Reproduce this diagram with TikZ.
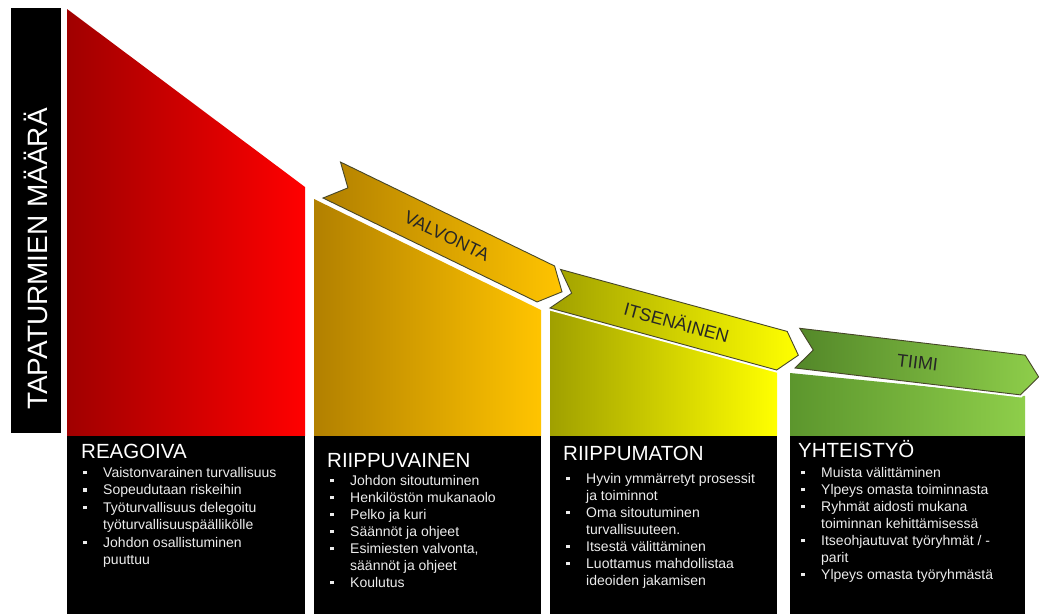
\documentclass[tikz,border=0pt]{standalone}
\usepackage{fontspec}
\setmainfont{Liberation Sans}
\definecolor{redL}{RGB}{160,0,0}
\definecolor{redR}{RGB}{255,0,0}
\definecolor{orangeL}{RGB}{178,128,0}
\definecolor{orangeR}{RGB}{255,196,0}
\definecolor{yellowL}{RGB}{160,160,0}
\definecolor{yellowR}{RGB}{255,255,0}
\definecolor{greenL}{RGB}{92,150,45}
\definecolor{greenR}{RGB}{142,206,74}
\definecolor{arrowline}{RGB}{70,70,40}
\definecolor{boxtext}{RGB}{236,236,236}
% bullet line and continuation line of a list
\newcommand\itm[1]{\makebox[20pt][l]{\raisebox{3pt}{\rule{3.6pt}{3.6pt}}}#1}
\newcommand\cnt[1]{\hspace*{20pt}#1}
% outline of a stage arrow: body length #1, point depth #2
\newcommand\chevron[2]{(0,0) -- (#1,0) -- ({#1+#2},-20) -- (#1,-40) -- (0,-40) -- (#2,-20) -- cycle}
\begin{document}
\begin{tikzpicture}[x=1pt,y=-1pt,
  axisbar/.style={fill=black,minimum width=50pt,minimum height=425pt,inner sep=0pt,outer sep=0pt},
  axistext/.style={text=white,rotate=90,inner sep=0pt,font=\fontsize{28}{28}\selectfont},
  halo/.style={draw=white,line width=5pt,line join=miter},
  band/.style={draw=arrowline,line width=0.9pt,line join=miter},
  bandlabel/.style={text=black!85,inner sep=0pt,font=\fontsize{18}{18}\selectfont},
  heading/.style={text=white,anchor=base west,inner sep=0pt,font=\fontsize{20.5}{24}\selectfont},
  listtext/.style={text=boxtext,anchor=north west,align=left,inner sep=0pt,font=\fontsize{14}{17}\selectfont}]
\useasboundingbox (0,0) rectangle (1039,614);
\fill[white] (0,0) rectangle (1039,614);

% vertical axis label
\node[axisbar] (axis) at (35.5,220) {};
\node[axistext] (axislabel) at (35.5,259) {TAPATURMIEN MÄÄRÄ};

% falling columns
\shade[left color=redL,right color=redR] (67,9) -- (305,187) -- (305,436) -- (67,436) -- cycle;
\shade[left color=orangeL,right color=orangeR] (314,199) -- (541,310) -- (541,436) -- (314,436) -- cycle;
\shade[left color=yellowL,right color=yellowR] (550,310) -- (777,370) -- (777,436) -- (550,436) -- cycle;
\shade[left color=greenL,right color=greenR] (790,373) -- (1025,396) -- (1025,436) -- (790,436) -- cycle;

% black description boxes
\fill[black] (67,436) rectangle (305,614);
\fill[black] (314,436) rectangle (541,614);
\fill[black] (550,436) rectangle (777,614);
\fill[black] (790,436) rectangle (1025,614);

% stage arrows, each set off by a thin white rim
\begin{scope}[shift={(795,368)},rotate=-6.8]
  \draw[halo] \chevron{227}{16};
  \shade[band,left color=greenL!90!black,right color=greenR] \chevron{227}{16};
  \node[bandlabel,rotate=-6.8] (tiimi) at (121,-20) {TIIMI};
\end{scope}
\begin{scope}[shift={(550,308)},rotate=-15.3]
  \draw[halo] \chevron{235}{17};
  \shade[band,left color=yellowL,right color=yellowR] \chevron{235}{17};
  \node[bandlabel,rotate=-15.3] (itsenainen) at (126,-20) {ITSENÄINEN};
\end{scope}
\begin{scope}[shift={(323,198)},rotate=-25.9]
  \draw[halo] \chevron{238}{18};
  \shade[band,left color=orangeL,right color=orangeR] \chevron{238}{18};
  \node[bandlabel,rotate=-25.9] (valvonta) at (128,-20) {VALVONTA};
\end{scope}

% box texts
\node[heading] (h1) at (81,458) {REAGOIVA};
\node[listtext,font=\fontsize{14}{17.5}\selectfont] (l1) at (83,467) {%
\itm{Vaistonvarainen turvallisuus}\\
\itm{Sopeudutaan riskeihin}\\
\itm{Työturvallisuus delegoitu}\\
\cnt{työturvallisuuspäällikölle}\\
\itm{Johdon osallistuminen}\\
\cnt{puuttuu}};

\node[heading] (h2) at (327,467) {RIIPPUVAINEN};
\node[listtext] (l2) at (330,475) {%
\itm{Johdon sitoutuminen}\\
\itm{Henkilöstön mukanaolo}\\
\itm{Pelko ja kuri}\\
\itm{Säännöt ja ohjeet}\\
\itm{Esimiesten valvonta,}\\
\cnt{säännöt ja ohjeet}\\
\itm{Koulutus}};

\node[heading] (h3) at (563,460) {RIIPPUMATON};
\node[listtext] (l3) at (566,473) {%
\itm{Hyvin ymmärretyt prosessit}\\
\cnt{ja toiminnot}\\
\itm{Oma sitoutuminen}\\
\cnt{turvallisuuteen.}\\
\itm{Itsestä välittäminen}\\
\itm{Luottamus mahdollistaa}\\
\cnt{ideoiden jakamisen}};

\node[heading] (h4) at (798,457) {YHTEISTYÖ};
\node[listtext] (l4) at (801,467) {%
\itm{Muista välittäminen}\\
\itm{Ylpeys omasta toiminnasta}\\
\itm{Ryhmät aidosti mukana}\\
\cnt{toiminnan kehittämisessä}\\
\itm{Itseohjautuvat työryhmät / -}\\
\cnt{parit}\\
\itm{Ylpeys omasta työryhmästä}};
\end{tikzpicture}
\end{document}
